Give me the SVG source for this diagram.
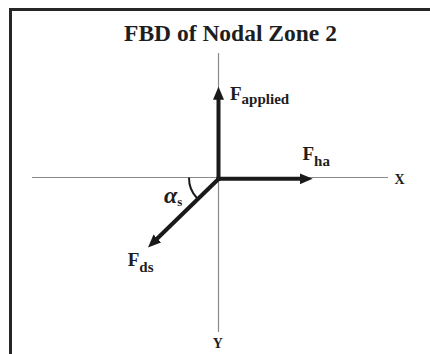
<svg xmlns="http://www.w3.org/2000/svg" width="430" height="354" viewBox="0 0 430 354">
<style>
.axis{stroke:#8a8a8a;stroke-width:1.2;fill:none}
.force{stroke:#1a1a1a;stroke-width:4;fill:none;marker-end:url(#ah)}
.t{font-family:"Liberation Serif","Times New Roman",serif;font-weight:bold;fill:#1e1e1e}
</style>
<defs>
<marker id="ah" markerUnits="userSpaceOnUse" markerWidth="13" markerHeight="11" refX="3" refY="5.5" orient="auto">
<path d="M0,0 L13,5.5 L0,11 z" fill="#1a1a1a"/>
</marker>
</defs>
<rect x="10.5" y="9.5" width="440" height="360" fill="#ffffff" stroke="#262626" stroke-width="3"/>
<text class="t" x="230.5" y="41" font-size="23.5" text-anchor="middle">FBD of Nodal Zone 2</text>
<g id="axes">
<line class="axis" x1="32" y1="177.5" x2="388" y2="177.5"/>
<line class="axis" x1="218.5" y1="53" x2="218.5" y2="332"/>
</g>
<g id="label-x"><text class="t" x="394.5" y="183.5" font-size="14">X</text></g>
<g id="label-y"><text class="t" x="217.7" y="347.5" font-size="14" text-anchor="middle">Y</text></g>
<g id="connectors">
<line id="f-applied" class="force" x1="218.5" y1="181" x2="218.5" y2="96.7"/>
<line id="f-ha" class="force" x1="216.5" y1="178.8" x2="302.7" y2="178.8"/>
<line id="f-ds" class="force" x1="219.5" y1="178" x2="155.2" y2="240.5"/>
<path id="alpha-arc" d="M189,177.5 A29.5,29.5 0 0 0 197.3,198.5" stroke="#1a1a1a" stroke-width="2" fill="none"/>
</g>
<g id="label-applied"><text class="t" x="230" y="100" font-size="19">F<tspan font-size="15" dy="4">applied</tspan></text></g>
<g id="label-ha"><text class="t" x="302.5" y="160" font-size="19">F<tspan font-size="15" dy="6">ha</tspan></text></g>
<g id="label-ds"><text class="t" x="127.7" y="265.5" font-size="19">F<tspan font-size="15" dy="6">ds</tspan></text></g>
<g id="label-alpha"><text class="t" x="164" y="203" font-size="24" font-style="italic">α<tspan font-size="13" font-style="normal" dy="3">s</tspan></text></g>
</svg>
